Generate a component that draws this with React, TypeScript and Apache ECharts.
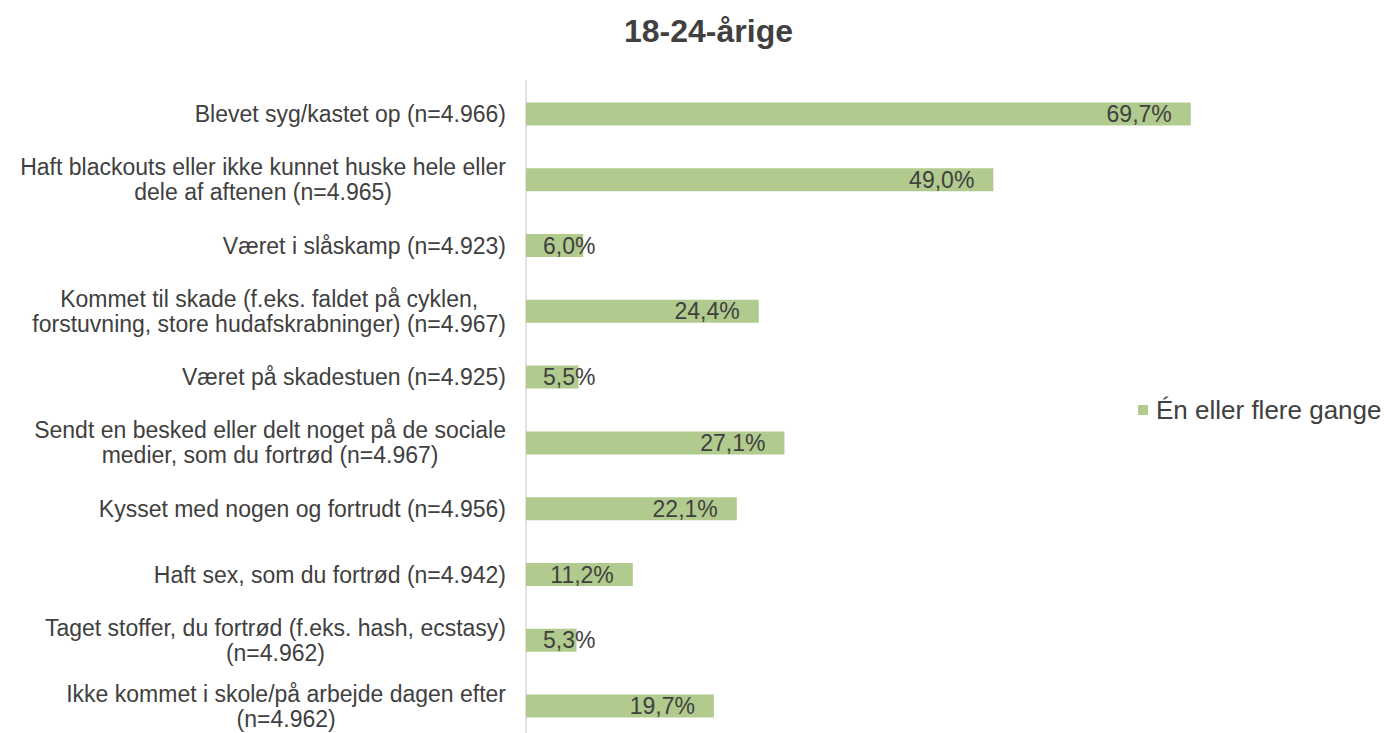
import React, { useEffect, useRef } from "react";
import * as echarts from "echarts";

const titleText = "18-24-årige";
const seriesName = "Én eller flere gange";
const categories = [
  "Blevet syg/kastet op (n=4.966)",
  "Haft blackouts eller ikke kunnet huske hele eller\ndele af aftenen (n=4.965)",
  "Været i slåskamp (n=4.923)",
  "Kommet til skade (f.eks. faldet på cyklen,\nforstuvning, store hudafskrabninger) (n=4.967)",
  "Været på skadestuen (n=4.925)",
  "Sendt en besked eller delt noget på de sociale\nmedier, som du fortrød (n=4.967)",
  "Kysset med nogen og fortrudt (n=4.956)",
  "Haft sex, som du fortrød (n=4.942)",
  "Taget stoffer, du fortrød (f.eks. hash, ecstasy)\n(n=4.962)",
  "Ikke kommet i skole/på arbejde dagen efter\n(n=4.962)",
];
const values = [69.7, 49.0, 6.0, 24.4, 5.5, 27.1, 22.1, 11.2, 5.3, 19.7];

const FONT = "'Liberation Sans', Arial, sans-serif";
const TEXT = "#404040";
const BAR = "#b1cb8e";

export default function App() {
  const ref = useRef<HTMLDivElement>(null);
  useEffect(() => {
    if (!ref.current) return;
    document.documentElement.style.overflow = "hidden";
    document.body.style.overflow = "hidden";
    const chart = echarts.init(ref.current, null, { renderer: "svg" });
    const fmt = (v: number) => v.toFixed(1).replace(".", ",") + "%";
    chart.setOption({
      animation: false,
      backgroundColor: "#ffffff",
      title: {
        text: titleText,
        left: 619,
        top: 10,
        textStyle: { fontFamily: FONT, fontSize: 32, fontWeight: "bold", color: TEXT },
      },
      legend: {
        orient: "vertical",
        left: 1133,
        top: 392,
        icon: "rect",
        itemWidth: 10,
        itemHeight: 10,
        textStyle: { fontFamily: FONT, fontSize: 26, color: TEXT, padding: [0, 0, 0, 3] },
        data: [seriesName],
      },
      grid: { left: 526, top: 81, width: 763, height: 658, containLabel: false },
      xAxis: {
        type: "value",
        min: 0,
        max: 80,
        show: false,
      },
      yAxis: {
        type: "category",
        inverse: true,
        data: categories,
        axisLine: { show: true, lineStyle: { color: "#d9d9d9", width: 1.5 } },
        axisTick: { show: false },
        axisLabel: {
          margin: 20,
          fontFamily: FONT,
          fontSize: 23,
          color: TEXT,
          lineHeight: 25,
          formatter: (v: string) =>
            v
              .split("\n")
              .map((l) => `{c|${l}}`)
              .join("\n"),
          rich: {
            c: { align: "center", fontFamily: FONT, fontSize: 23, color: TEXT, lineHeight: 25 },
          },
        },
      },
      series: [
        {
          name: seriesName,
          type: "bar",
          barWidth: 23,
          itemStyle: { color: BAR },
          data: values.map((v) => ({
            value: v,
            label:
              v < 10
                ? { position: "insideLeft", distance: 17 }
                : { position: "insideRight", distance: 19 },
          })),
          label: {
            show: true,
            fontFamily: FONT,
            fontSize: 23,
            color: TEXT,
            formatter: (p: any) => fmt(p.value),
          },
        },
      ],
    });
    return () => chart.dispose();
  }, []);
  return (
    <div
      ref={ref}
      style={{ position: "absolute", left: 0, top: 0, width: 1384, height: 745 }}
    />
  );
}
